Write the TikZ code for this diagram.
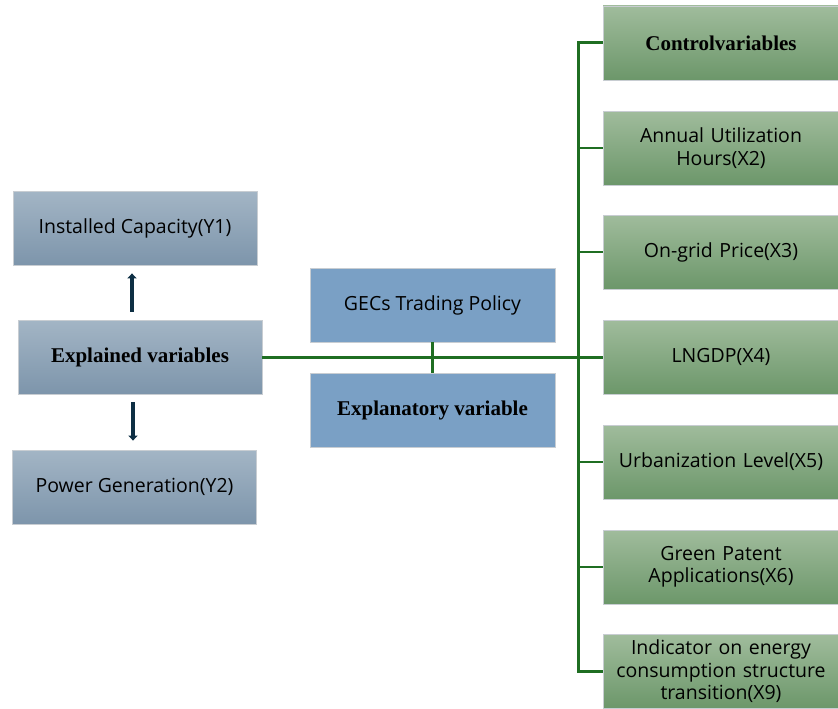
\documentclass[tikz,border=0pt]{standalone}
\usepackage{fontspec}
\setmainfont{Open Sans}
\newfontfamily\headfont{Liberation Serif}
\usetikzlibrary{arrows.meta}
\definecolor{bluetop}{HTML}{A3B5C5}
\definecolor{bluebot}{HTML}{7D95AB}
\definecolor{greentop}{HTML}{A0BC9C}
\definecolor{greenbot}{HTML}{6C976A}
\definecolor{midblue}{HTML}{7AA0C5}
\definecolor{linegreen}{HTML}{1F6E22}
\definecolor{arrowdark}{HTML}{0E2F44}
\definecolor{edgegray}{HTML}{C8CDD2}
\begin{document}
\begin{tikzpicture}[x=1pt,y=-1pt,
  base/.style={draw=edgegray, line width=0.8pt, minimum height=74pt, inner sep=2pt,
    align=center, font=\fontsize{19.5}{22.5}\selectfont, text=black},
  leftbox/.style={base, minimum width=244pt, top color=bluetop, bottom color=bluebot},
  midbox/.style={base, minimum width=245pt, fill=midblue},
  rightbox/.style={base, minimum width=236pt, text width=230pt, top color=greentop, bottom color=greenbot},
  head/.style={font=\headfont\bfseries\fontsize{21}{24}\selectfont},
  conn/.style={draw=linegreen, line width=3pt},
  thin/.style={draw=linegreen, line width=2.2pt},
  bigarrow/.style={draw=arrowdark, line width=4pt, -{Triangle[length=5pt,width=9pt]}}
]
\useasboundingbox (0,0) rectangle (838,709);
% left column
\node[leftbox] (y1) at (135,228) {Installed Capacity(Y1)};
\node[leftbox, head] (expl) at (140,357) {Explained variables};
\node[leftbox] (y2) at (134.5,487) {Power Generation(Y2)};
% middle
\node[midbox] (gec) at (432.5,305) {GECs Trading Policy};
\node[midbox, head] (expv) at (432.5,410) {Explanatory variable};
% right column
\node[rightbox, head] (ctrl) at (721,43) {Controlvariables};
\node[rightbox] (x2) at (721,148) {Annual Utilization\\Hours(X2)};
\node[rightbox] (x3) at (721,252) {On-grid Price(X3)};
\node[rightbox] (x4) at (721,357) {LNGDP(X4)};
\node[rightbox] (x5) at (721,462) {Urbanization Level(X5)};
\node[rightbox] (x6) at (721,567) {Green Patent\\Applications(X6)};
\node[rightbox] (x9) at (721,671.5) {Indicator on energy\\consumption structure\\transition(X9)};
% connectors
\coordinate (bus) at (578,357);
\draw[conn] (expl.east) -- (x4.west);
\draw[thin] (gec.south) -- (expv.north);
\draw[conn] (ctrl.west) -| (bus);
\draw[conn] (x9.west) -| (bus);
\foreach \n in {x2,x3,x5,x6}{
  \draw[thin] (\n.west) -- (\n.west -| bus);
}
\draw[bigarrow] ([yshift=8pt]expl.north -| 132,0) -- ([yshift=-8pt]y1.south -| 132,0);
\draw[bigarrow] ([yshift=-8pt]expl.south -| 133,0) -- ([yshift=9pt]y2.north -| 133,0);
\end{tikzpicture}
\end{document}
